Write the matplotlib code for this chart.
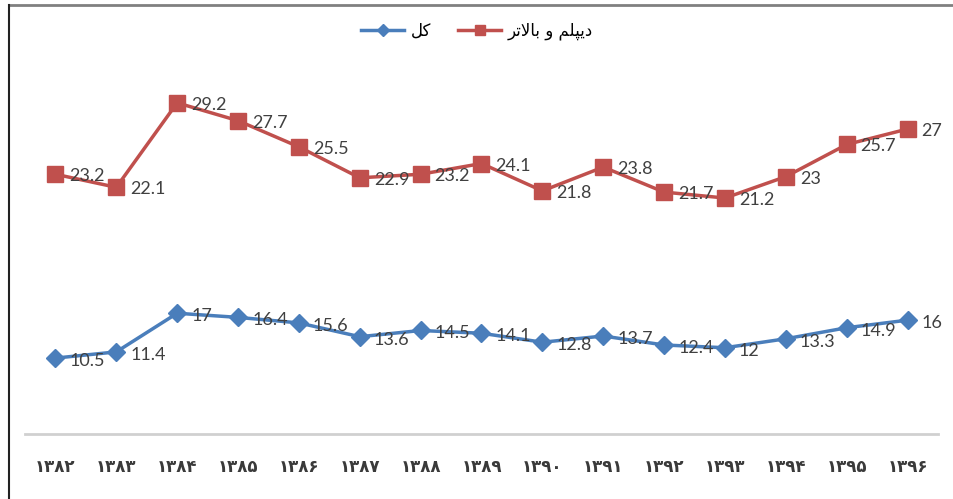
import matplotlib
matplotlib.use("Agg")
import matplotlib.pyplot as plt
from matplotlib.lines import Line2D

plt.rcParams['font.family'] = ['DejaVu Sans']

# years 1382..1396 in Persian digits
years = ['۱۳۸۲', '۱۳۸۳', '۱۳۸۴', '۱۳۸۵', '۱۳۸۶', '۱۳۸۷', '۱۳۸۸', '۱۳۸۹',
         '۱۳۹۰', '۱۳۹۱', '۱۳۹۲', '۱۳۹۳', '۱۳۹۴', '۱۳۹۵', '۱۳۹۶']
total = [10.5, 11.4, 17, 16.4, 15.6, 13.6, 14.5, 14.1, 12.8, 13.7, 12.4, 12, 13.3, 14.9, 16]
diploma = [23.2, 22.1, 29.2, 27.7, 25.5, 22.9, 23.2, 24.1, 21.8, 23.8, 21.7, 21.2, 23, 25.7, 27]

# legend names, written with presentation forms in visual order (no shaping in mpl)
name_total = '\uFEDE\uFB90'  # کل
name_diploma = ''.join(reversed('\uFEA9\uFBFE\uFB59\uFEE0\uFEE2 \uFEED \uFE91\uFE8E\uFEFB\uFE97\uFEAE'))  # دیپلم و بالاتر

blue = '#4A7EBB'
red = '#C0504D'
lbl_color = '#404040'

fig = plt.figure(figsize=(9.54, 4.99), dpi=100)
ax = fig.add_axes([25 / 954, 1 - 434 / 499, (938 - 25) / 954, (434 - 60) / 499])
ax2 = ax.twinx()

x = list(range(len(years)))
l2, = ax.plot(x, diploma, color=red, lw=2.5, marker='s', ms=11, zorder=3)
l1, = ax2.plot(x, total, color=blue, lw=2.5, marker='D', ms=9, zorder=3)

for xi, v in zip(x, diploma):
    ax.annotate(f'{v:g}', (xi, v), xytext=(14, -2), textcoords='offset pixels',
                ha='left', va='center', fontsize=13, color=lbl_color, family='Lato')
for xi, v in zip(x, total):
    ax2.annotate(f'{v:g}', (xi, v), xytext=(14, -3), textcoords='offset pixels',
                 ha='left', va='center', fontsize=13, color=lbl_color, family='Lato')

ax.set_xlim(-0.5, 14.5)
ax.set_ylim(1.37, 32.8)
ax2.set_ylim(-0.5, 53.7)

ax.set_xticks(x)
ax.set_xticklabels(years, fontsize=12, fontweight='bold', color='#3a3a3a')
ax.tick_params(axis='x', length=0, pad=17)
ax.set_yticks([])
ax2.set_yticks([])
for a in (ax, ax2):
    for s in ('top', 'right', 'left'):
        a.spines[s].set_visible(False)
ax2.spines['bottom'].set_visible(False)
ax.spines['bottom'].set_color('#D0D0D0')
ax.spines['bottom'].set_linewidth(2)

fig.legend([l1, l2], [name_total, name_diploma], loc='center', ncol=2,
           bbox_to_anchor=(0.5, 1 - 31 / 499), frameon=False, fontsize=12,
           markerscale=0.7, handlelength=2.6, columnspacing=1.6, handletextpad=0.4)

# outer frame (top and left edges)
fig.add_artist(Line2D([9 / 954, 1], [1 - 5 / 499, 1 - 5 / 499], color='#808080', lw=2))
fig.add_artist(Line2D([9 / 954, 9 / 954], [0, 1 - 5 / 499], color='#222222', lw=1.5))

fig.savefig('out.png', dpi=100)
